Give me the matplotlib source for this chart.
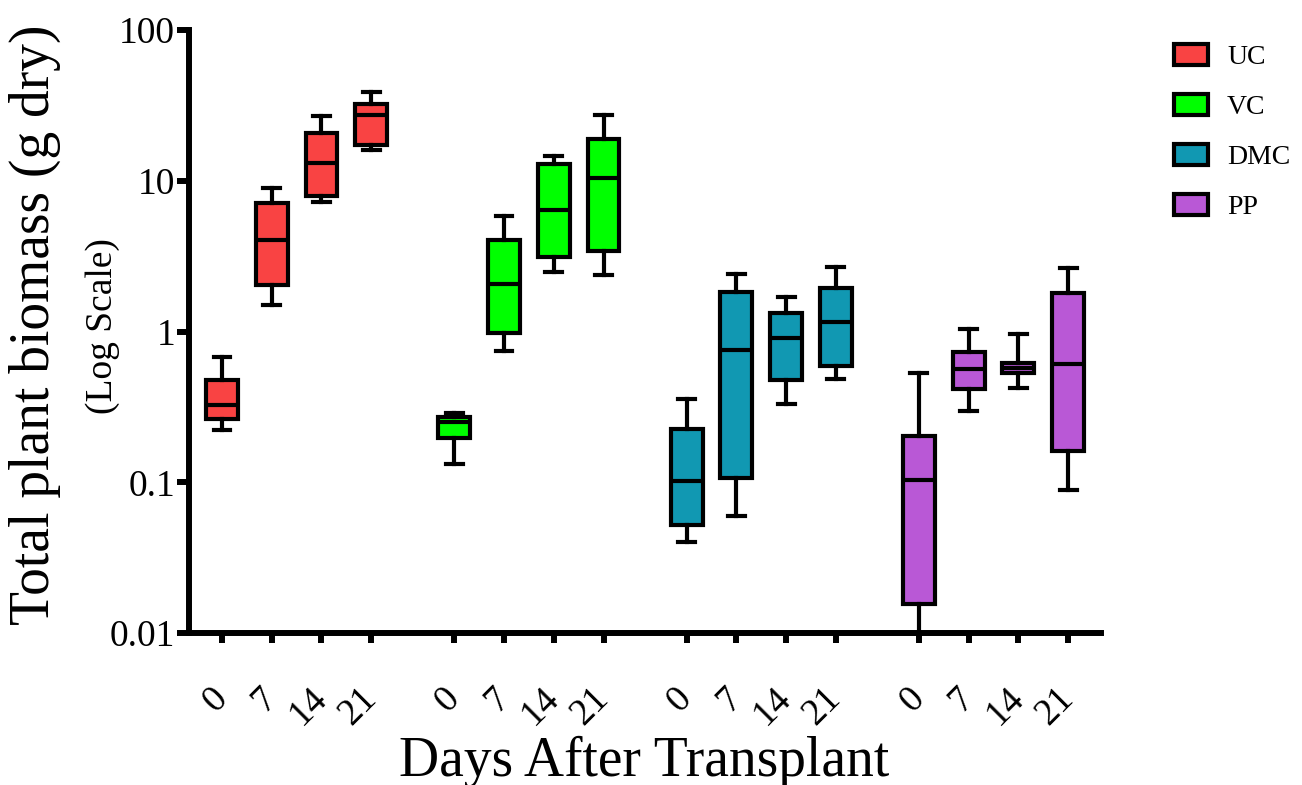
import numpy as np
import matplotlib.pyplot as plt
from matplotlib.patches import Patch

plt.rcParams['font.family'] = ['Liberation Serif', 'DejaVu Serif']

# treatments and sampling days
groups = ['UC', 'VC', 'DMC', 'PP']
days = ['0', '7', '14', '21']
colors = ['#F94343', '#00FF00', '#1198B2', '#B958D6']

# box stats (g dry): whisker low, q1, median, q3, whisker high
whislo = [[0.221, 1.51, 7.22, 16.0],
          [0.132, 0.748, 2.50, 2.37],
          [0.0401, 0.0596, 0.332, 0.481],
          [0.005, 0.299, 0.419, 0.0895]]
q1 = [[0.264, 2.05, 7.96, 17.3],
      [0.196, 0.98, 3.14, 3.44],
      [0.0519, 0.107, 0.474, 0.589],
      [0.0156, 0.413, 0.530, 0.160]]
med = [[0.327, 4.06, 13.1, 27.1],
       [0.251, 2.07, 6.43, 10.5],
       [0.102, 0.757, 0.908, 1.16],
       [0.104, 0.560, 0.575, 0.611]]
q3 = [[0.474, 7.15, 20.6, 32.2],
      [0.273, 4.05, 12.9, 18.9],
      [0.227, 1.84, 1.33, 1.94],
      [0.202, 0.726, 0.617, 1.80]]
whishi = [[0.676, 8.99, 26.7, 38.7],
          [0.290, 5.84, 14.5, 27.1],
          [0.358, 2.41, 1.69, 2.67],
          [0.533, 1.04, 0.965, 2.64]]

fig = plt.figure(figsize=(13.02, 7.85), dpi=100)
ax = fig.add_axes([0.1455, 0.1936, 0.7005, 0.7682])

gap = 4.67
positions = []
ticklabels = []
for g in range(len(groups)):
    stats = []
    pos = []
    for d in range(len(days)):
        stats.append(dict(whislo=whislo[g][d], q1=q1[g][d], med=med[g][d],
                          q3=q3[g][d], whishi=whishi[g][d], fliers=[]))
        pos.append(g * gap + d)
    positions += pos
    ticklabels += days
    ax.bxp(stats, positions=pos, widths=0.64, patch_artist=True,
           showfliers=False, manage_ticks=False,
           boxprops=dict(facecolor=colors[g], edgecolor='black', linewidth=3),
           medianprops=dict(color='black', linewidth=3),
           whiskerprops=dict(color='black', linewidth=3),
           capprops=dict(color='black', linewidth=3),
           capwidths=0.34)

ax.set_yscale('log')
ax.set_ylim(0.01, 100)
ax.set_xlim(-0.654, 17.68)
ax.set_yticks([0.01, 0.1, 1, 10, 100])
ax.set_yticklabels(['0.01', '0.1', '1', '10', '100'])
ax.minorticks_off()
ax.set_xticks(positions)
ax.set_xticklabels(ticklabels, rotation=45, ha='right', va='center',
                   rotation_mode='anchor')

for s in ['top', 'right']:
    ax.spines[s].set_visible(False)
for s in ['left', 'bottom']:
    ax.spines[s].set_linewidth(4.3)
ax.tick_params(axis='y', length=8.3, width=4.3, labelsize=27, pad=2)
ax.tick_params(axis='x', length=7.2, width=4.3, labelsize=27, pad=36)

fig.text(0.495, 0.030, 'Days After Transplant', fontsize=40,
         ha='center', va='center')
fig.text(0.027, 0.586, 'Total plant biomass (g dry)', rotation=90,
         fontsize=40, ha='center', va='center')
fig.text(0.079, 0.585, '(Log Scale)', rotation=90,
         fontsize=27, ha='center', va='center')

handles = [Patch(facecolor=c, edgecolor='black', linewidth=3, label=l)
           for c, l in zip(colors, groups)]
fig.legend(handles=handles, loc='upper left', bbox_to_anchor=(0.893, 0.958),
           frameon=False, fontsize=20, labelspacing=0.85,
           handlelength=1.22, handleheight=0.8, handletextpad=0.7,
           borderaxespad=0)

fig.savefig('out.png', dpi=100)
